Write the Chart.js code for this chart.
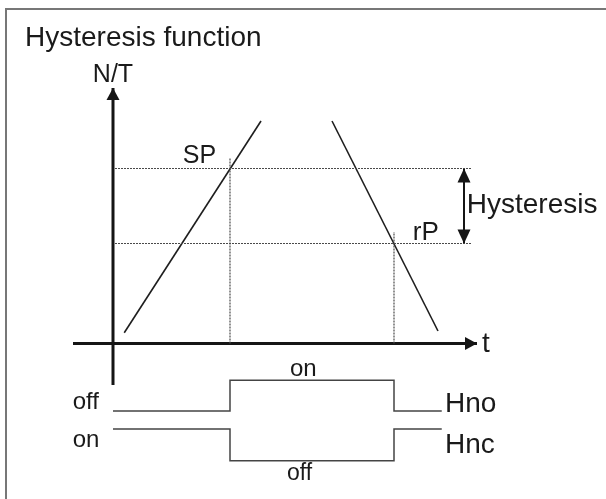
<!DOCTYPE html>
<html>
<head>
<meta charset="utf-8">
<title>Hysteresis function</title>
<script src="https://cdn.jsdelivr.net/npm/chart.js@4/dist/chart.umd.min.js"></script>
<style>
  html, body { margin: 0; padding: 0; background: #fff; }
  #wrap { width: 606px; height: 499px; position: relative; }
</style>
</head>
<body>
<div id="wrap"><canvas id="chart"></canvas></div>
<script>
// N/T levels (1 unit is about 25 px in the picture)
const setPoint = 7;
const resetPoint = 4;
// instants where the ramps cross SP and rP
const switchTimes = [4.68, 11.24];

// the two N/T ramps
const riseT = [0.45, 5.92];
const riseN = [0.43, 8.9];
const fallT = [8.76, 13.0];
const fallN = [8.9, 0.5];

// relay outputs drawn under the time axis
const relayT = [0, 4.68, 4.68, 11.24, 11.24, 13.15];
const hnoLevels = [-2.7, -2.7, -1.47, -1.47, -2.7, -2.7];
const hncLevels = [-3.42, -3.42, -4.69, -4.69, -3.42, -3.42];

// axes and guides
const timeAxisT = [-1.6, 14.56];
const valueAxisN = [-1.66, 10.22];
const guideT = [0.08, 14.36];
const guideTopN = [7.41, 4.46];
const hystT = 14.04;

// texts
const titleText = "Hysteresis function";
const axisLabels = ["N/T", "t"];
const levelLabels = ["SP", "rP", "Hysteresis"];
const stateLabels = ["off", "on", "on", "off"];
const relayLabels = ["Hno", "Hnc"];

const pts = (xs, ys) => xs.map((v, i) => ({ x: v, y: ys[i] }));

function line(data, color, width, dash) {
  return {
    data,
    showLine: true,
    borderColor: color,
    borderWidth: width,
    borderDash: dash || [],
    borderCapStyle: "butt",
    pointRadius: 0,
    pointHoverRadius: 0,
    fill: false,
    tension: 0,
  };
}

const dotted = "#4a4a4a";
const dots = [2, 1];
const datasets = [
  line(pts(guideT, [setPoint, setPoint]), dotted, 1.2, dots),
  line(pts(guideT, [resetPoint, resetPoint]), dotted, 1.2, dots),
  line(pts([switchTimes[0], switchTimes[0]], [0, guideTopN[0]]), dotted, 1.2, dots),
  line(pts([switchTimes[1], switchTimes[1]], [0, guideTopN[1]]), dotted, 1.2, dots),
  line(pts(riseT, riseN), "#1e1e1e", 1.6),
  line(pts(fallT, fallN), "#1e1e1e", 1.6),
  line(pts([0, 0], valueAxisN), "#151515", 3),
  line(pts(timeAxisT, [0, 0]), "#151515", 3),
  line(pts([hystT, hystT], [resetPoint, setPoint]), "#151515", 2),
  line(pts(relayT, hnoLevels), "#444", 1.5),
  line(pts(relayT, hncLevels), "#444", 1.5),
];

function arrowHead(ctx, x, y, dir, len, wid) {
  ctx.beginPath();
  ctx.moveTo(x, y);
  if (dir === "up") {
    ctx.lineTo(x - wid / 2, y + len);
    ctx.lineTo(x + wid / 2, y + len);
  } else if (dir === "down") {
    ctx.lineTo(x - wid / 2, y - len);
    ctx.lineTo(x + wid / 2, y - len);
  } else {
    ctx.lineTo(x - len, y - wid / 2);
    ctx.lineTo(x - len, y + wid / 2);
  }
  ctx.closePath();
  ctx.fill();
}

const overlay = {
  id: "overlay",
  beforeDraw(chart) {
    // thin frame round the figure (top and left edges only are visible)
    const { ctx, width, height } = chart;
    ctx.save();
    ctx.strokeStyle = "#777";
    ctx.lineWidth = 2;
    ctx.beginPath();
    ctx.moveTo(6, height);
    ctx.lineTo(6, 9);
    ctx.lineTo(width, 9);
    ctx.stroke();
    ctx.restore();
  },
  afterDatasetsDraw(chart) {
    const { ctx } = chart;
    const sx = chart.scales.x, sy = chart.scales.y;
    const px = (v) => sx.getPixelForValue(v);
    const py = (v) => sy.getPixelForValue(v);
    ctx.save();
    ctx.fillStyle = "#151515";
    arrowHead(ctx, px(0), py(valueAxisN[1]), "up", 12, 13);
    arrowHead(ctx, px(timeAxisT[1]), py(0), "right", 12, 13);
    arrowHead(ctx, px(hystT), py(setPoint), "up", 14, 13);
    arrowHead(ctx, px(hystT), py(resetPoint), "down", 14, 13);

    const font = (s) => `${s}px "Liberation Sans", Arial, sans-serif`;
    const text = (str, x, y, size, align) => {
      ctx.font = font(size);
      ctx.textAlign = align || "left";
      ctx.textBaseline = "alphabetic";
      ctx.fillText(str, px(x), py(y));
    };
    ctx.fillStyle = "#1a1a1a";
    text(titleText, -3.52, 11.9, 28);
    text(axisLabels[0], 0, 10.47, 25, "center");
    text(axisLabels[1], 14.76, -0.33, 28);
    text(levelLabels[0], 2.79, 7.23, 25);
    text(levelLabels[1], 11.99, 4.14, 26);
    text(levelLabels[2], 14.15, 5.21, 28);
    text(stateLabels[0], -1.61, -2.63, 24);
    text(stateLabels[1], -1.61, -4.13, 24);
    text(stateLabels[2], 7.08, -1.3, 24);
    text(stateLabels[3], 6.96, -5.46, 23);
    text(relayLabels[0], 13.28, -2.75, 28);
    text(relayLabels[1], 13.28, -4.37, 28);
    ctx.restore();
  },
};

new Chart(document.getElementById("chart"), {
  type: "scatter",
  data: { datasets },
  options: {
    responsive: true,
    maintainAspectRatio: false,
    animation: false,
    layout: { padding: 0 },
    plugins: {
      legend: { display: false },
      tooltip: { enabled: false },
    },
    scales: {
      x: { type: "linear", min: -4.52, max: 19.72, display: false },
      y: { type: "linear", min: -6.22, max: 13.74, display: false },
    },
  },
  plugins: [overlay],
});
</script>
</body>
</html>
